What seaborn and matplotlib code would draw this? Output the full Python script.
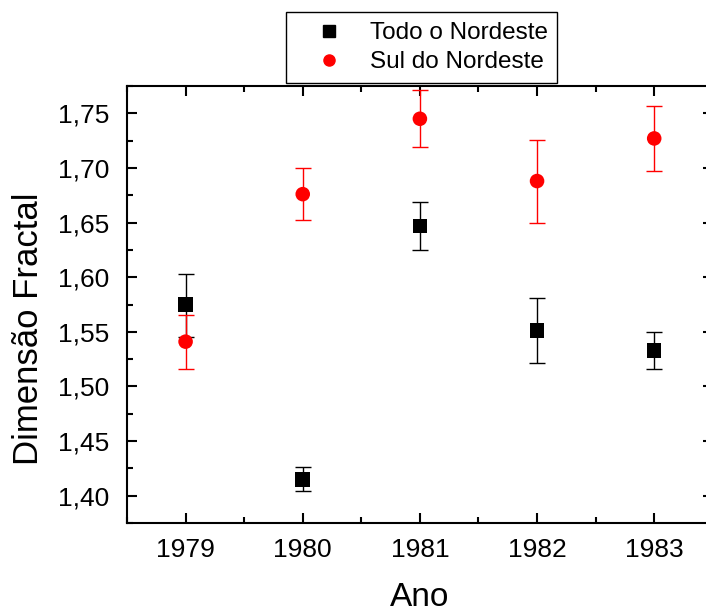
import numpy as np
import pandas as pd
import matplotlib
matplotlib.use('Agg')
import matplotlib.pyplot as plt
import seaborn as sns
from matplotlib.ticker import MultipleLocator, FuncFormatter
from matplotlib.lines import Line2D

anos = [1979, 1980, 1981, 1982, 1983]

todo_nordeste = [1.575, 1.415, 1.647, 1.551, 1.533]
todo_err_baixo = [0.030, 0.011, 0.022, 0.030, 0.017]
todo_err_cima = [0.028, 0.011, 0.022, 0.030, 0.017]

sul_nordeste = [1.541, 1.676, 1.745, 1.688, 1.727]
sul_err_baixo = [0.025, 0.024, 0.026, 0.038, 0.030]
sul_err_cima = [0.024, 0.024, 0.026, 0.038, 0.030]

df = pd.DataFrame({
    'Ano': anos * 2,
    'Dimensao': todo_nordeste + sul_nordeste,
    'Serie': ['Todo o Nordeste'] * 5 + ['Sul do Nordeste'] * 5,
})

sns.set_theme(style='ticks')
plt.rcParams['font.family'] = ['Liberation Sans', 'DejaVu Sans']
plt.rcParams['text.color'] = 'black'
plt.rcParams['axes.labelcolor'] = 'black'
plt.rcParams['xtick.color'] = 'black'
plt.rcParams['ytick.color'] = 'black'

fig = plt.figure(figsize=(7.06, 6.12), dpi=100)
ax = fig.add_axes([0.1799, 0.1454, 0.8297, 0.7141])

ax.errorbar(anos, todo_nordeste, yerr=[todo_err_baixo, todo_err_cima], fmt='none',
            ecolor='black', elinewidth=1, capsize=6, capthick=1, zorder=2)
ax.errorbar(anos, sul_nordeste, yerr=[sul_err_baixo, sul_err_cima], fmt='none',
            ecolor='red', elinewidth=1, capsize=6, capthick=1, zorder=2)

sns.scatterplot(data=df, x='Ano', y='Dimensao', hue='Serie', style='Serie',
                palette={'Todo o Nordeste': 'black', 'Sul do Nordeste': 'red'},
                markers={'Todo o Nordeste': 's', 'Sul do Nordeste': 'o'},
                s=110, edgecolor='none', ax=ax, zorder=3, legend=False)

ax.set_xlim(1978.5, 1983.5)
ax.set_ylim(1.375, 1.775)
ax.set_xticks(anos)
ax.xaxis.set_minor_locator(MultipleLocator(0.5))
ax.yaxis.set_major_locator(MultipleLocator(0.05))
ax.yaxis.set_minor_locator(MultipleLocator(0.025))
ax.yaxis.set_major_formatter(FuncFormatter(lambda v, p: f'{v:.2f}'.replace('.', ',')))

ax.tick_params(which='both', direction='in', top=True, right=True, labelsize=19, width=1.5)
ax.tick_params(which='major', length=7)
ax.tick_params(axis='x', which='major', pad=11)
ax.tick_params(axis='y', which='major', pad=13)
ax.tick_params(which='minor', length=4)
for s in ax.spines.values():
    s.set_linewidth(1.5)
    s.set_color('black')

ax.set_xlabel('Ano', fontsize=24, labelpad=14)
ax.set_ylabel('Dimensão Fractal', fontsize=25, va='center')
ax.yaxis.set_label_coords(-0.169, 0.444)

handles = [Line2D([], [], ls='none', marker='s', color='black', markersize=9),
           Line2D([], [], ls='none', marker='o', color='red', markersize=8)]
leg = fig.legend(handles, ['Todo o Nordeste', 'Sul do Nordeste'], loc='center',
                 bbox_to_anchor=(0.597, 0.922), fontsize=17.5, frameon=True,
                 fancybox=False, framealpha=1, edgecolor='black',
                 handletextpad=0.3, labelspacing=0.3, borderpad=0.4,
                 handlelength=2.75)
leg.get_frame().set_linewidth(1)

fig.savefig('out.png', dpi=100)
